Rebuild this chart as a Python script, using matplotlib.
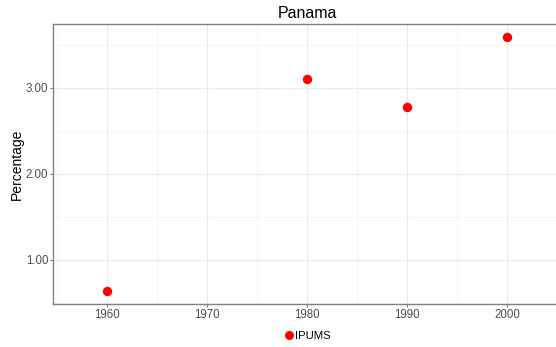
import matplotlib
matplotlib.use("Agg")
import matplotlib.pyplot as plt
from matplotlib.lines import Line2D
import numpy as np

plt.rcParams['font.family'] = ['Liberation Sans', 'DejaVu Sans']

# data
years = [1960, 1980, 1990, 2000]
pct = [0.64, 3.10, 2.78, 3.59]
series = "IPUMS"
xticks = [1960, 1970, 1980, 1990, 2000]
yticks = [1.0, 2.0, 3.0]

W, H = 556, 347
fig = plt.figure(figsize=(W / 100, H / 100), dpi=100)
# panel runs a bit past the right edge of the image
left, right, top, bottom = 53, 561, 24, 304
ax = fig.add_axes([left / W, 1 - bottom / H, (right - left) / W, (bottom - top) / H])

ax.scatter(years, pct, s=46, color='#ff0000', zorder=3, linewidths=0)

ax.set_xlim(1954.6, 2005.4)
ax.set_ylim(0.488, 3.744)
ax.set_xticks(xticks)
ax.set_yticks(yticks)
ax.set_yticklabels(["%.2f" % v for v in yticks])
ax.set_xticks([1955, 1965, 1975, 1985, 1995, 2005], minor=True)
ax.set_yticks([0.5, 1.5, 2.5, 3.5], minor=True)

ax.grid(True, which='major', color='#ebebeb', linewidth=0.8)
ax.grid(True, which='minor', color='#f3f3f3', linewidth=0.6)
ax.set_axisbelow(True)

for s in ax.spines.values():
    s.set_color('#808080')
    s.set_linewidth(1.0)

ax.tick_params(which='major', length=2.2, width=0.8, color='#808080',
               labelsize=8.3, labelcolor='#4d4d4d', pad=1.2)
ax.tick_params(which='minor', length=0)

ax.set_ylabel("Percentage", fontsize=10, color='black')
ax.yaxis.set_label_coords((24 - left) / (right - left), 0.5)
ax.set_title("Panama", fontsize=11.5, color='black', pad=4)

h = Line2D([], [], marker='o', linestyle='none', color='#ff0000',
           markersize=6.5, markeredgewidth=0)
fig.legend([h], [series], loc='center', bbox_to_anchor=(307 / W, 1 - 336 / H),
           frameon=False, fontsize=8.2, handletextpad=0.1, handlelength=1.0)

fig.savefig("out.png", dpi=100)
